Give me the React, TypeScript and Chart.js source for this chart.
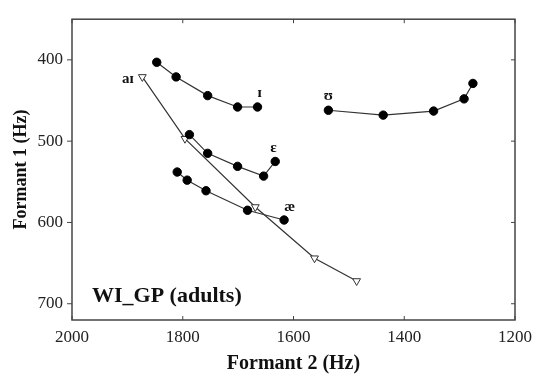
import { useEffect, useRef } from 'react';
import { Chart, registerables } from 'chart.js';

Chart.register(...registerables);

// Vowel trajectories: Formant 2 (x) and Formant 1 (y), Hz
const vowelI_F2 = [1847, 1812, 1755, 1701, 1665];
const vowelI_F1 = [403, 421, 444, 458, 458];
const vowelE_F2 = [1788, 1755, 1701, 1654, 1633];
const vowelE_F1 = [492, 515, 531, 543, 525];
const vowelAE_F2 = [1810, 1792, 1758, 1683, 1617];
const vowelAE_F1 = [538, 548, 561, 585, 597];
const vowelU_F2 = [1537, 1438, 1347, 1292, 1276];
const vowelU_F1 = [462, 468, 463, 448, 429];
const diphAI_F2 = [1873, 1796, 1669, 1562, 1486];
const diphAI_F1 = [421, 497, 581, 644, 672];

const labelText = ['aɪ', 'ɪ', 'ɛ', 'æ', 'ʊ'];
const labelF2 = [1899, 1661, 1636, 1607, 1537];
const labelF1 = [424, 441, 508, 581, 445];

const xTicks = [2000, 1800, 1600, 1400, 1200];
const yTicks = [400, 500, 600, 700];
const panelTitle = 'WI_GP (adults)';

const SERIF = '"Liberation Serif", "DejaVu Serif", serif';

function pts(xs: number[], ys: number[]) {
  return xs.map((v, i) => ({ x: v, y: ys[i] }));
}

const framePlugin = {
  id: 'frame',
  afterDatasetsDraw(chart: any) {
    const { ctx, chartArea: a, scales } = chart;
    const x = scales.x;
    const y = scales.y;
    ctx.save();
    ctx.strokeStyle = '#444';
    ctx.lineWidth = 1.5;
    ctx.strokeRect(a.left, a.top, a.right - a.left, a.bottom - a.top);
    ctx.lineWidth = 1;
    ctx.beginPath();
    xTicks.forEach((v) => {
      const px = x.getPixelForValue(v);
      ctx.moveTo(px, a.bottom);
      ctx.lineTo(px, a.bottom - 4);
      ctx.moveTo(px, a.top);
      ctx.lineTo(px, a.top + 4);
    });
    yTicks.forEach((v) => {
      const py = y.getPixelForValue(v);
      ctx.moveTo(a.left, py);
      ctx.lineTo(a.left - 5, py);
      ctx.moveTo(a.right, py);
      ctx.lineTo(a.right - 4, py);
    });
    ctx.stroke();

    ctx.fillStyle = '#111';
    ctx.font = 'bold 15px ' + SERIF;
    ctx.textAlign = 'center';
    ctx.textBaseline = 'middle';
    labelText.forEach((t, i) => {
      ctx.fillText(t, x.getPixelForValue(labelF2[i]), y.getPixelForValue(labelF1[i]));
    });

    ctx.font = 'bold 22px ' + SERIF;
    ctx.textAlign = 'left';
    ctx.textBaseline = 'alphabetic';
    ctx.fillText(panelTitle, a.left + 20, a.bottom - 18);
    ctx.restore();
  },
};

export default function App() {
  const ref = useRef<HTMLCanvasElement | null>(null);

  useEffect(() => {
    if (!ref.current) return;
    const circleStyle = {
      showLine: true,
      borderColor: '#333',
      borderWidth: 1.2,
      pointStyle: 'circle',
      pointRadius: 4.2,
      pointBackgroundColor: '#000',
      pointBorderColor: '#000',
      pointBorderWidth: 1,
    };
    const chart = new Chart(ref.current, {
      type: 'scatter',
      data: {
        datasets: [
          { label: 'ɪ', data: pts(vowelI_F2, vowelI_F1), ...circleStyle },
          { label: 'ɛ', data: pts(vowelE_F2, vowelE_F1), ...circleStyle },
          { label: 'æ', data: pts(vowelAE_F2, vowelAE_F1), ...circleStyle },
          { label: 'ʊ', data: pts(vowelU_F2, vowelU_F1), ...circleStyle },
          {
            label: 'aɪ',
            data: pts(diphAI_F2, diphAI_F1),
            showLine: true,
            borderColor: '#333',
            borderWidth: 1.2,
            pointStyle: 'triangle',
            rotation: 180,
            pointRadius: 4.5,
            pointBackgroundColor: '#fff',
            pointBorderColor: '#333',
            pointBorderWidth: 1,
          },
        ] as any,
      },
      options: {
        animation: false,
        responsive: true,
        maintainAspectRatio: false,
        layout: { padding: { top: 13, right: 17, left: 0, bottom: 0 } },
        plugins: {
          legend: { display: false },
          tooltip: { enabled: false },
        },
        scales: {
          x: {
            type: 'linear',
            min: 1200,
            max: 2000,
            reverse: true,
            grid: { display: false, drawTicks: false },
            border: { display: false },
            afterBuildTicks: (s: any) => {
              s.ticks = xTicks.map((v) => ({ value: v }));
            },
            afterFit: (s: any) => {
              s.height = 54;
            },
            ticks: {
              padding: 7,
              color: '#222',
              font: { family: SERIF, size: 17 },
              maxRotation: 0,
              callback: (v: any) => String(v),
            },
            title: {
              display: true,
              text: 'Formant 2 (Hz)',
              color: '#111',
              font: { family: SERIF, size: 20, weight: 'bold' },
              padding: { top: 0, bottom: -2 },
            },
          },
          y: {
            type: 'linear',
            min: 350,
            max: 720,
            reverse: true,
            grid: { display: false, drawTicks: false },
            border: { display: false },
            afterBuildTicks: (s: any) => {
              s.ticks = yTicks.map((v) => ({ value: v }));
            },
            afterFit: (s: any) => {
              s.width = 72;
            },
            ticks: {
              padding: 9,
              color: '#222',
              font: { family: SERIF, size: 17 },
              callback: (v: any) => String(v),
            },
            title: {
              display: true,
              text: 'Formant 1 (Hz)',
              color: '#111',
              font: { family: SERIF, size: 18, weight: 'bold' },
              padding: { top: 11, bottom: 0 },
            },
          },
        },
      } as any,
      plugins: [framePlugin],
    });
    return () => chart.destroy();
  }, []);

  return (
    <div style={{ position: 'fixed', left: 0, top: 0, width: 539, height: 374, background: '#fff' }}>
      <canvas ref={ref} />
    </div>
  );
}
